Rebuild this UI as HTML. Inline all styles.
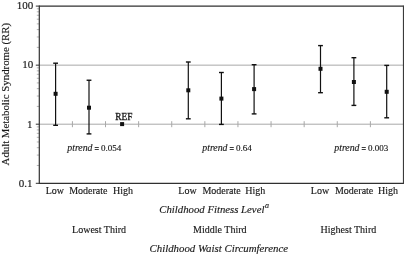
<!DOCTYPE html>
<html><head><meta charset="utf-8"><style>
html,body{margin:0;padding:0;background:#fff;}
body{width:404px;height:255px;overflow:hidden;font-family:"Liberation Serif",serif;}
svg{display:block;filter:grayscale(1);}
</style></head><body>
<svg width="404" height="255" viewBox="0 0 404 255">
<rect width="404" height="255" fill="#fff"/>
<line x1="39.3" y1="65.15" x2="403.5" y2="65.15" stroke="#a8a8a8" stroke-width="1"/>
<line x1="39.3" y1="124.2" x2="403.5" y2="124.2" stroke="#a8a8a8" stroke-width="1"/>
<line x1="72.41" y1="121.20" x2="72.41" y2="127.20" stroke="#a8a8a8" stroke-width="1"/>
<line x1="105.52" y1="121.20" x2="105.52" y2="127.20" stroke="#a8a8a8" stroke-width="1"/>
<line x1="138.63" y1="121.20" x2="138.63" y2="127.20" stroke="#a8a8a8" stroke-width="1"/>
<line x1="171.74" y1="121.20" x2="171.74" y2="127.20" stroke="#a8a8a8" stroke-width="1"/>
<line x1="204.85" y1="121.20" x2="204.85" y2="127.20" stroke="#a8a8a8" stroke-width="1"/>
<line x1="237.95" y1="121.20" x2="237.95" y2="127.20" stroke="#a8a8a8" stroke-width="1"/>
<line x1="271.06" y1="121.20" x2="271.06" y2="127.20" stroke="#a8a8a8" stroke-width="1"/>
<line x1="304.17" y1="121.20" x2="304.17" y2="127.20" stroke="#a8a8a8" stroke-width="1"/>
<line x1="337.28" y1="121.20" x2="337.28" y2="127.20" stroke="#a8a8a8" stroke-width="1"/>
<line x1="370.39" y1="121.20" x2="370.39" y2="127.20" stroke="#a8a8a8" stroke-width="1"/>
<line x1="36.8" y1="165.47" x2="39.3" y2="165.47" stroke="#a0a0a0" stroke-width="0.8"/>
<line x1="36.8" y1="155.08" x2="39.3" y2="155.08" stroke="#a0a0a0" stroke-width="0.8"/>
<line x1="36.8" y1="147.70" x2="39.3" y2="147.70" stroke="#a0a0a0" stroke-width="0.8"/>
<line x1="36.8" y1="141.98" x2="39.3" y2="141.98" stroke="#a0a0a0" stroke-width="0.8"/>
<line x1="36.8" y1="137.30" x2="39.3" y2="137.30" stroke="#a0a0a0" stroke-width="0.8"/>
<line x1="36.8" y1="133.35" x2="39.3" y2="133.35" stroke="#a0a0a0" stroke-width="0.8"/>
<line x1="36.8" y1="129.92" x2="39.3" y2="129.92" stroke="#a0a0a0" stroke-width="0.8"/>
<line x1="36.8" y1="126.90" x2="39.3" y2="126.90" stroke="#a0a0a0" stroke-width="0.8"/>
<line x1="36.8" y1="106.42" x2="39.3" y2="106.42" stroke="#a0a0a0" stroke-width="0.8"/>
<line x1="36.8" y1="96.03" x2="39.3" y2="96.03" stroke="#a0a0a0" stroke-width="0.8"/>
<line x1="36.8" y1="88.65" x2="39.3" y2="88.65" stroke="#a0a0a0" stroke-width="0.8"/>
<line x1="36.8" y1="82.93" x2="39.3" y2="82.93" stroke="#a0a0a0" stroke-width="0.8"/>
<line x1="36.8" y1="78.25" x2="39.3" y2="78.25" stroke="#a0a0a0" stroke-width="0.8"/>
<line x1="36.8" y1="74.30" x2="39.3" y2="74.30" stroke="#a0a0a0" stroke-width="0.8"/>
<line x1="36.8" y1="70.87" x2="39.3" y2="70.87" stroke="#a0a0a0" stroke-width="0.8"/>
<line x1="36.8" y1="67.85" x2="39.3" y2="67.85" stroke="#a0a0a0" stroke-width="0.8"/>
<line x1="36.8" y1="47.37" x2="39.3" y2="47.37" stroke="#a0a0a0" stroke-width="0.8"/>
<line x1="36.8" y1="36.98" x2="39.3" y2="36.98" stroke="#a0a0a0" stroke-width="0.8"/>
<line x1="36.8" y1="29.60" x2="39.3" y2="29.60" stroke="#a0a0a0" stroke-width="0.8"/>
<line x1="36.8" y1="23.88" x2="39.3" y2="23.88" stroke="#a0a0a0" stroke-width="0.8"/>
<line x1="36.8" y1="19.20" x2="39.3" y2="19.20" stroke="#a0a0a0" stroke-width="0.8"/>
<line x1="36.8" y1="15.25" x2="39.3" y2="15.25" stroke="#a0a0a0" stroke-width="0.8"/>
<line x1="36.8" y1="11.82" x2="39.3" y2="11.82" stroke="#a0a0a0" stroke-width="0.8"/>
<line x1="36.8" y1="8.80" x2="39.3" y2="8.80" stroke="#a0a0a0" stroke-width="0.8"/>
<line x1="35.8" y1="6.10" x2="39.3" y2="6.10" stroke="#303030" stroke-width="1"/>
<line x1="35.8" y1="65.15" x2="39.3" y2="65.15" stroke="#303030" stroke-width="1"/>
<line x1="35.8" y1="124.20" x2="39.3" y2="124.20" stroke="#303030" stroke-width="1"/>
<line x1="35.8" y1="183.30" x2="39.3" y2="183.30" stroke="#303030" stroke-width="1"/>
<line x1="39.3" y1="6.1" x2="403.5" y2="6.1" stroke="#303030" stroke-width="1.3"/>
<line x1="39.3" y1="183.3" x2="403.5" y2="183.3" stroke="#303030" stroke-width="1.2"/>
<line x1="39.3" y1="5.5" x2="39.3" y2="183.9" stroke="#303030" stroke-width="1.2"/>
<line x1="403.5" y1="5.5" x2="403.5" y2="183.9" stroke="#3a3a3a" stroke-width="1.2"/>
<line x1="55.6" y1="63.2" x2="55.6" y2="125.3" stroke="#111" stroke-width="1.2"/>
<line x1="53.2" y1="63.2" x2="58.0" y2="63.2" stroke="#111" stroke-width="1.4"/>
<line x1="53.2" y1="125.3" x2="58.0" y2="125.3" stroke="#111" stroke-width="1.4"/>
<rect x="53.6" y="91.8" width="4" height="4" fill="#111"/>
<line x1="89.0" y1="80.25" x2="89.0" y2="133.9" stroke="#111" stroke-width="1.2"/>
<line x1="86.6" y1="80.25" x2="91.4" y2="80.25" stroke="#111" stroke-width="1.4"/>
<line x1="86.6" y1="133.9" x2="91.4" y2="133.9" stroke="#111" stroke-width="1.4"/>
<rect x="87.0" y="105.7" width="4" height="4" fill="#111"/>
<line x1="188.3" y1="62.0" x2="188.3" y2="118.8" stroke="#111" stroke-width="1.2"/>
<line x1="185.9" y1="62.0" x2="190.70000000000002" y2="62.0" stroke="#111" stroke-width="1.4"/>
<line x1="185.9" y1="118.8" x2="190.70000000000002" y2="118.8" stroke="#111" stroke-width="1.4"/>
<rect x="186.3" y="88.3" width="4" height="4" fill="#111"/>
<line x1="221.4" y1="72.5" x2="221.4" y2="124.4" stroke="#111" stroke-width="1.2"/>
<line x1="219.0" y1="72.5" x2="223.8" y2="72.5" stroke="#111" stroke-width="1.4"/>
<line x1="219.0" y1="124.4" x2="223.8" y2="124.4" stroke="#111" stroke-width="1.4"/>
<rect x="219.4" y="96.6" width="4" height="4" fill="#111"/>
<line x1="254.1" y1="64.7" x2="254.1" y2="113.9" stroke="#111" stroke-width="1.2"/>
<line x1="251.7" y1="64.7" x2="256.5" y2="64.7" stroke="#111" stroke-width="1.4"/>
<line x1="251.7" y1="113.9" x2="256.5" y2="113.9" stroke="#111" stroke-width="1.4"/>
<rect x="252.1" y="87.1" width="4" height="4" fill="#111"/>
<line x1="320.5" y1="45.6" x2="320.5" y2="92.7" stroke="#111" stroke-width="1.2"/>
<line x1="318.1" y1="45.6" x2="322.9" y2="45.6" stroke="#111" stroke-width="1.4"/>
<line x1="318.1" y1="92.7" x2="322.9" y2="92.7" stroke="#111" stroke-width="1.4"/>
<rect x="318.5" y="66.8" width="4" height="4" fill="#111"/>
<line x1="353.9" y1="57.7" x2="353.9" y2="105.4" stroke="#111" stroke-width="1.2"/>
<line x1="351.5" y1="57.7" x2="356.29999999999995" y2="57.7" stroke="#111" stroke-width="1.4"/>
<line x1="351.5" y1="105.4" x2="356.29999999999995" y2="105.4" stroke="#111" stroke-width="1.4"/>
<rect x="351.9" y="80.0" width="4" height="4" fill="#111"/>
<line x1="386.7" y1="65.4" x2="386.7" y2="117.8" stroke="#111" stroke-width="1.2"/>
<line x1="384.3" y1="65.4" x2="389.09999999999997" y2="65.4" stroke="#111" stroke-width="1.4"/>
<line x1="384.3" y1="117.8" x2="389.09999999999997" y2="117.8" stroke="#111" stroke-width="1.4"/>
<rect x="384.7" y="89.8" width="4" height="4" fill="#111"/>
<rect x="120.1" y="122.1" width="4" height="4" fill="#111"/>
<text x="33.3" y="8.85" text-anchor="end" font-size="11" font-family="Liberation Serif" fill="#1a1a1a" stroke="#1a1a1a" stroke-width="0.15">100</text>
<text x="33.3" y="67.9" text-anchor="end" font-size="11" font-family="Liberation Serif" fill="#1a1a1a" stroke="#1a1a1a" stroke-width="0.15">10</text>
<text x="32.6" y="127.9" text-anchor="end" font-size="11" font-family="Liberation Serif" fill="#1a1a1a" stroke="#1a1a1a" stroke-width="0.15">1</text>
<text x="32.4" y="187.3" text-anchor="end" font-size="11" font-family="Liberation Serif" fill="#1a1a1a" stroke="#1a1a1a" stroke-width="0.15">0.1</text>
<text transform="translate(9.0,94.2) rotate(-90)" text-anchor="middle" font-size="10.8" font-family="Liberation Serif" fill="#1a1a1a" stroke="#1a1a1a" stroke-width="0.15">Adult Metabolic Syndrome (RR)</text>
<text x="54.85" y="193.8" text-anchor="middle" font-size="10" font-family="Liberation Serif" fill="#1a1a1a" stroke="#1a1a1a" stroke-width="0.15">Low</text>
<text x="88.36" y="193.8" text-anchor="middle" font-size="10" font-family="Liberation Serif" fill="#1a1a1a" stroke="#1a1a1a" stroke-width="0.15">Moderate</text>
<text x="122.97" y="193.8" text-anchor="middle" font-size="10" font-family="Liberation Serif" fill="#1a1a1a" stroke="#1a1a1a" stroke-width="0.15">High</text>
<text x="187.49" y="193.8" text-anchor="middle" font-size="10" font-family="Liberation Serif" fill="#1a1a1a" stroke="#1a1a1a" stroke-width="0.15">Low</text>
<text x="221.60" y="193.8" text-anchor="middle" font-size="10" font-family="Liberation Serif" fill="#1a1a1a" stroke="#1a1a1a" stroke-width="0.15">Moderate</text>
<text x="255.31" y="193.8" text-anchor="middle" font-size="10" font-family="Liberation Serif" fill="#1a1a1a" stroke="#1a1a1a" stroke-width="0.15">High</text>
<text x="320.03" y="193.8" text-anchor="middle" font-size="10" font-family="Liberation Serif" fill="#1a1a1a" stroke="#1a1a1a" stroke-width="0.15">Low</text>
<text x="354.14" y="193.8" text-anchor="middle" font-size="10" font-family="Liberation Serif" fill="#1a1a1a" stroke="#1a1a1a" stroke-width="0.15">Moderate</text>
<text x="387.95" y="193.8" text-anchor="middle" font-size="10" font-family="Liberation Serif" fill="#1a1a1a" stroke="#1a1a1a" stroke-width="0.15">High</text>
<text x="123.9" y="119.7" text-anchor="middle" font-size="9.3" font-family="Liberation Serif" fill="#1a1a1a" stroke="#1a1a1a" stroke-width="0.3">REF</text>
<text x="67.3" y="151.2" font-size="9.8" font-style="italic" font-family="Liberation Serif" fill="#1a1a1a" stroke="#1a1a1a" stroke-width="0.15">ptrend</text>
<rect x="94.70" y="147" width="4.1" height="0.95" fill="#333"/><rect x="94.70" y="149.05" width="4.1" height="0.95" fill="#333"/>
<text x="101.10" y="151.2" font-size="9" font-family="Liberation Serif" fill="#1a1a1a" stroke="#1a1a1a" stroke-width="0.15">0.054</text>
<text x="202.3" y="151.2" font-size="9.8" font-style="italic" font-family="Liberation Serif" fill="#1a1a1a" stroke="#1a1a1a" stroke-width="0.15">ptrend</text>
<rect x="229.70" y="147" width="4.1" height="0.95" fill="#333"/><rect x="229.70" y="149.05" width="4.1" height="0.95" fill="#333"/>
<text x="236.10" y="151.2" font-size="9" font-family="Liberation Serif" fill="#1a1a1a" stroke="#1a1a1a" stroke-width="0.15">0.64</text>
<text x="334.3" y="151.2" font-size="9.8" font-style="italic" font-family="Liberation Serif" fill="#1a1a1a" stroke="#1a1a1a" stroke-width="0.15">ptrend</text>
<rect x="361.70" y="147" width="4.1" height="0.95" fill="#333"/><rect x="361.70" y="149.05" width="4.1" height="0.95" fill="#333"/>
<text x="368.10" y="151.2" font-size="9" font-family="Liberation Serif" fill="#1a1a1a" stroke="#1a1a1a" stroke-width="0.15">0.003</text>
<text x="159.3" y="212.9" font-size="10.75" font-style="italic" font-family="Liberation Serif" fill="#1a1a1a" stroke="#1a1a1a" stroke-width="0.15">Childhood Fitness Level<tspan font-size="8" dx="0.6" dy="-4.6">a</tspan></text>
<text x="99.1" y="232.6" text-anchor="middle" font-size="10" font-family="Liberation Serif" fill="#1a1a1a" stroke="#1a1a1a" stroke-width="0.15">Lowest Third</text>
<text x="219.8" y="232.6" text-anchor="middle" font-size="10" font-family="Liberation Serif" fill="#1a1a1a" stroke="#1a1a1a" stroke-width="0.15">Middle Third</text>
<text x="348.4" y="232.6" text-anchor="middle" font-size="10" font-family="Liberation Serif" fill="#1a1a1a" stroke="#1a1a1a" stroke-width="0.15">Highest Third</text>
<text x="149.5" y="252.2" font-size="10.85" font-style="italic" font-family="Liberation Serif" fill="#1a1a1a" stroke="#1a1a1a" stroke-width="0.15">Childhood Waist Circumference</text>
</svg>
</body></html>
